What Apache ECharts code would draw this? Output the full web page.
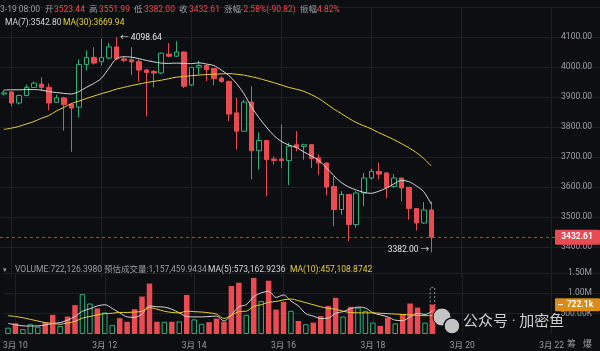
<!DOCTYPE html>
<html lang="zh-CN">
<head>
<meta charset="UTF-8">
<title>4H K线</title>
<script src="https://cdn.jsdelivr.net/npm/echarts@6/dist/echarts.min.js"></script>
<style>
  html, body { margin: 0; padding: 0; background: #0d0e11; }
  #chart { width: 600px; height: 351px; }
</style>
</head>
<body>
<div id="chart"></div>
<script>
// time slots (4h candles)
const days = ['3-09','3-10','3-11','3-12','3-13','3-14','3-15','3-16','3-17','3-18','3-19','3-20','3-21','3-22','3-23'];
const hours = ['00:00','04:00','08:00','12:00','16:00','20:00'];
const tickCats = ['3-10 00:00','3-12 00:00','3-14 00:00','3-16 00:00','3-18 00:00','3-20 00:00','3-22 00:00'];
const tickLabels = ['3月 10','3月 12','3月 14','3月 16','3月 18','3月 20','3月 22'];

// price data
const opens  = [3910,3917,3880,3905,3932,3943,3932,3882,3897,3875, 3866,4008,4032,4018,4030,4067,4027,4024,4018,3990,
                3985,3980,4043,4036,4050,3940,3999,4005,3995,3963, 3952,3847,3786,3883,3721,3755,3693,3693,3688,3741,
                3735,3741,3697,3680,3602,3525,3575,3475,3580,3630, 3652,3647,3602,3630,3599,3528,3480,3523.44];
const closes = [3914,3880,3905,3932,3946,3932,3880,3897,3875,3863, 4008,4032,4013,4031,4067,4027,4022,4017,3990,3982,
                3980,4046,4036,4050,3936,3999,4005,3991,3961,3952, 3843,3786,3883,3721,3755,3691,3688,3688,3736,3732,
                3741,3695,3680,3600,3525,3575,3475,3580,3630,3652, 3643,3599,3630,3597,3528,3480,3523.44,3432.61];
const lows   = [3905,3869,3875,3902,3930,3921,3856,3880,3788,3717, 3832,3988,4008,4005,4025,4022,4015,3973,3951,3835,
                3932,3976,4032,4034,3930,3936,3975,3952,3939,3947, 3819,3725,3784,3625,3658,3569,3675,3663,3606,3719,
                3691,3663,3641,3572,3469,3508,3419,3464,3536,3625, 3625,3563,3597,3552,3491,3455,3477,3382.00];
const highs  = [3922,3919,3908,3941,3952,3966,3945,3908,3901,3880, 4025,4055,4066,4094,4080,4098.64,4036,4066,4026,3994,
                3990,4048,4080,4086,4052,4000,4021,4008,3996,3969, 3955,3897,3891,3936,3782,3757,3702,3808,3747,3786,
                3744,3742,3708,3681,3636,3586,3576,3586,3647,3661, 3682,3648,3643,3631,3600,3529,3550,3551.99];
const ma7  = [3923,3924,3924,3925,3925,3923,3918,3915,3912,3910, 3918,3932,3945,3962,3995,4028,4034,4033,4028,4022,
              4017,4013,4012,4013,4012,4011,4014,4010,4005,3990, 3972,3946,3912,3868,3832,3800,3772,3752,3740,3732,
              3717,3704,3688,3665,3638,3615,3600,3590,3582,3579, 3586,3596,3610,3622,3618,3604,3584,3542.80];
const ma30 = [3792,3796,3802,3810,3818,3829,3838,3853,3865,3878, 3886,3895,3903,3911,3918,3926,3932,3938,3943,3948,
              3952,3956,3961,3966,3968,3971,3973,3975,3976,3977, 3978,3976,3973,3968,3962,3955,3948,3940,3932,3926,
              3919,3908,3895,3878,3860,3845,3829,3815,3804,3794, 3781,3770,3758,3745,3731,3715,3695,3669.94];

// volume (thousands)
const vols    = [155,260,120,240,180,280,470,200,430,710, 980,750,630,530,220,390,300,610,920,1240,
                 300,300,300,310,960,360,250,290,380,300, 1180,1260,470,1380,810,1310,600,790,570,320,
                 240,280,440,690,890,430,670,650,570,280, 200,400,260,480,750,650,280,722.126];
const volMa5  = [260,230,200,195,200,220,260,280,340,430, 560,620,690,720,630,520,420,410,490,690,
                 670,660,610,520,430,420,420,430,440,320, 470,670,720,920,1010,1050,900,960,810,690,
                 500,440,380,390,510,550,620,660,640,520, 470,420,340,330,420,510,480,573.16];
const volMa10 = [450,430,400,360,320,280,260,240,270,310, 390,430,470,500,510,530,530,540,560,650,
                 610,560,530,520,560,550,540,520,490,380, 460,550,560,680,720,780,800,840,860,820,
                 770,720,670,630,610,560,530,520,520,520, 510,500,490,480,470,460,450,457.11];
const estVol = 1157.46;

const BG = '#0d0e11', GRID = '#1e2025', RED = '#ea4a51', GREEN = '#2bb27a';
const GREYTXT = '#9a9ea6', YEL = '#e6cf35', WHITE = '#d6d6d6', ORANGE = '#d98d17';
const FONT = 'Roboto, "Noto Sans CJK SC", sans-serif';

let cats = [];
days.forEach(d => hours.forEach(h => cats.push(d + ' ' + h)));
cats = cats.slice(5, 85);  // starts 3-09 20:00

const kData = opens.map((o, i) => [o, closes[i], lows[i], highs[i]]);
const volData = vols.map((v, i) => ({
  value: v,
  itemStyle: closes[i] >= opens[i]
    ? { color: BG, borderColor: GREEN, borderWidth: 1 }
    : { color: RED }
}));
const estData = vols.map((v, i) => i === vols.length - 1 ? estVol : '-');

const isTick = (idx, val) => tickCats.indexOf(val) >= 0;

let myChart = echarts.init(document.getElementById('chart'));

let option = {
  backgroundColor: BG,
  animation: false,
  textStyle: { fontFamily: FONT },
  grid: [
    { left: -2, right: 0, top: 7, height: 270 },
    { left: -2, right: 0, top: 273, height: 61 }
  ],
  xAxis: [
    {
      type: 'category', gridIndex: 0, data: cats,
      axisLine: { show: false }, axisTick: { show: false }, axisLabel: { show: false },
      splitLine: { show: true, interval: isTick, alignWithLabel: true, lineStyle: { color: GRID, width: 1 } }
    },
    {
      type: 'category', gridIndex: 1, data: cats,
      axisLine: { show: false }, axisTick: { show: false },
      axisLabel: {
        interval: isTick, color: GREYTXT, fontSize: 8.5, margin: 8,
        formatter: v => tickLabels[tickCats.indexOf(v)] || ''
      },
      splitLine: { show: true, interval: isTick, alignWithLabel: true, lineStyle: { color: GRID, width: 1 } }
    }
  ],
  yAxis: [
    {
      type: 'value', gridIndex: 0, position: 'right', min: 3300, max: 4200, interval: 100,
      axisLine: { show: false }, axisTick: { show: false },
      axisLabel: {
        inside: true, margin: 8, color: GREYTXT, fontSize: 8.5,
        showMinLabel: false, showMaxLabel: false,
        formatter: v => v.toFixed(2)
      },
      splitLine: { show: true, showMinLine: false, lineStyle: { color: GRID, width: 1 } }
    },
    {
      type: 'value', gridIndex: 1, position: 'right', min: 0, max: 1500, interval: 500,
      axisLine: { show: false }, axisTick: { show: false },
      axisLabel: {
        inside: true, margin: 8, color: GREYTXT, fontSize: 8.5, showMinLabel: false,
        formatter: v => v >= 1000 ? (v / 1000).toFixed(2) + 'M' : v.toFixed(2) + 'K'
      },
      splitLine: { show: true, showMinLine: false, lineStyle: { color: GRID, width: 1 } }
    }
  ],
  series: [
    {
      name: 'K', type: 'candlestick', xAxisIndex: 0, yAxisIndex: 0, data: kData, barWidth: 5,
      itemStyle: { color: BG, color0: RED, borderColor: GREEN, borderColor0: RED, borderWidth: 1 },
      markLine: {
        silent: true, symbol: ['none', 'none'], label: { show: false },
        lineStyle: { color: RED, type: [3, 3], width: 1, opacity: 0.8 },
        data: [{ yAxis: closes[closes.length - 1] }]
      }
    },
    {
      name: 'MA7', type: 'line', xAxisIndex: 0, yAxisIndex: 0, data: ma7, symbol: 'none', smooth: 0.3,
      lineStyle: { color: WHITE, width: 1 }, z: 5
    },
    {
      name: 'MA30', type: 'line', xAxisIndex: 0, yAxisIndex: 0, data: ma30, symbol: 'none', smooth: 0.3,
      lineStyle: { color: YEL, width: 1 }, z: 5
    },
    {
      name: 'EST', type: 'bar', xAxisIndex: 1, yAxisIndex: 1, data: estData, barWidth: 5.5, barGap: '-100%',
      itemStyle: { color: 'rgba(0,0,0,0)', borderColor: '#8a8d94', borderWidth: 1, borderType: [2, 2] }
    },
    {
      name: 'VOL', type: 'bar', xAxisIndex: 1, yAxisIndex: 1, data: volData, barWidth: 5.5, barGap: '-100%'
    },
    {
      name: 'VMA5', type: 'line', xAxisIndex: 1, yAxisIndex: 1, data: volMa5, symbol: 'none', smooth: 0.3,
      lineStyle: { color: WHITE, width: 1 }, z: 5
    },
    {
      name: 'VMA10', type: 'line', xAxisIndex: 1, yAxisIndex: 1, data: volMa10, symbol: 'none', smooth: 0.3,
      lineStyle: { color: YEL, width: 1 }, z: 5
    }
  ]
};

myChart.setOption(option);

function txt(x, y, text, fill, size, align, weight) {
  return {
    type: 'text', x: x, y: y, silent: true, z: 100,
    style: {
      text: text, fill: fill, align: align || 'left', verticalAlign: 'middle',
      font: (weight || 'normal') + ' ' + (size || 8.5) + 'px ' + FONT
    }
  };
}

let graphics = [
  // header
  txt(0, 10, '3-19 08:00', GREYTXT),
  txt(45, 10, '开', GREYTXT), txt(54, 10, '3523.44', RED),
  txt(89, 10, '高', GREYTXT), txt(99, 10, '3551.99', RED),
  txt(134, 10, '低', GREYTXT), txt(144, 10, '3382.00', RED),
  txt(179, 10, '收', GREYTXT), txt(189, 10, '3432.61', RED),
  txt(224, 10, '涨幅', GREYTXT), txt(241, 10, '-2.58%(-90.82)', RED),
  txt(300, 10, '振幅', GREYTXT), txt(317, 10, '4.82%', RED),
  txt(5, 23, 'MA(7):3542.80', WHITE),
  txt(63, 23, 'MA(30):3669.94', YEL),
  // volume legend
  txt(3, 270, '▾', GREYTXT, 7),
  txt(15, 270, 'VOLUME:722,126.3980', GREYTXT),
  txt(104, 270, '预估成交量:1,157,459.9434', GREYTXT),
  txt(208, 270, 'MA(5):573,162.9236', WHITE),
  txt(290, 270, 'MA(10):457,108.8742', YEL),
  // bottom right icons
  txt(567, 345, '筹', GREYTXT, 9), txt(583, 345, '爆', GREYTXT, 9),
  // watermark
  { type: 'circle', silent: true, z: 99, shape: { cx: 442, cy: 317, r: 9 }, style: { fill: '#c4c4c4', stroke: BG, lineWidth: 1 } },
  { type: 'circle', silent: true, z: 99, shape: { cx: 452, cy: 326, r: 8 }, style: { fill: '#c4c4c4', stroke: BG, lineWidth: 1.5 } },
  txt(463, 322, '公众号 · 加密鱼', 'rgba(222,222,222,0.92)', 15)
];

const n = closes.length - 1;
const pHigh = myChart.convertToPixel({ gridIndex: 0 }, [15, highs[15]]);
const pLow = myChart.convertToPixel({ gridIndex: 0 }, [n, lows[n]]);
const pLast = myChart.convertToPixel({ gridIndex: 0 }, [n, closes[n]]);
const pVol = myChart.convertToPixel({ gridIndex: 1 }, [n, vols[n]]);

graphics.push(txt(pHigh[0] + 4, pHigh[1], '← ' + highs[15].toFixed(2), '#e4e4e4'));
graphics.push(txt(pLow[0] - 2, pLow[1] - 3, lows[n].toFixed(2) + ' →', '#e4e4e4', 8.5, 'right'));
graphics.push({ type: 'rect', silent: true, z: 100, shape: { x: 555, y: pLast[1] - 7.5, width: 45, height: 15, r: 1 }, style: { fill: RED } });
graphics.push(txt(577, pLast[1], closes[n].toFixed(2), '#ffffff', 8.5, 'center', 'bold'));
graphics.push({ type: 'rect', silent: true, z: 100, shape: { x: 555, y: pVol[1] - 6.5, width: 45, height: 13, r: 1 }, style: { fill: ORANGE } });
graphics.push(txt(580, pVol[1], vols[n].toFixed(1) + 'k', '#ffffff', 8.5, 'center', 'bold'));
graphics.push({ type: 'line', silent: true, z: 101, shape: { x1: 558, y1: pVol[1], x2: 563, y2: pVol[1] }, style: { stroke: '#ffffff', lineWidth: 1 } });

myChart.setOption({ graphic: graphics });
</script>
</body>
</html>
